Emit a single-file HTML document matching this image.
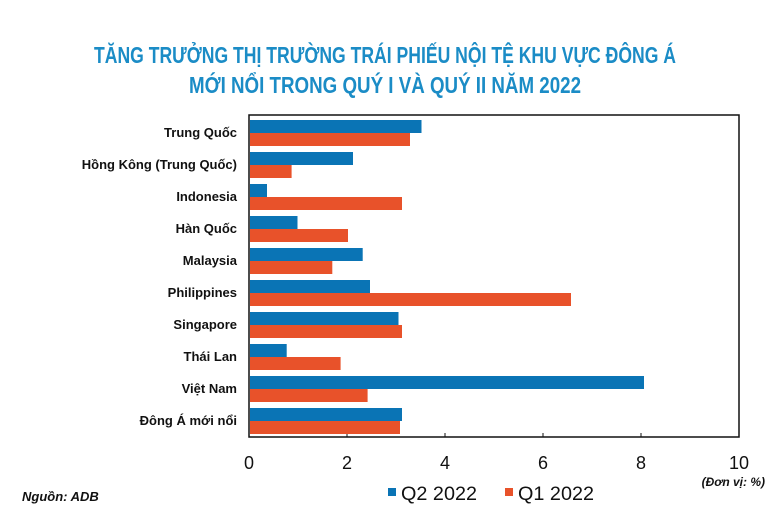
<!DOCTYPE html>
<html><head><meta charset="utf-8"><style>
body{margin:0;background:#fff;width:770px;height:521px;overflow:hidden}
</style></head><body>
<svg width="770" height="521" xmlns="http://www.w3.org/2000/svg" font-family="Liberation Sans, sans-serif">
<g fill="#1b8cc6" font-weight="bold" font-size="23" text-anchor="middle">
<text x="385" y="63" textLength="582" lengthAdjust="spacingAndGlyphs">TĂNG TRƯỞNG THỊ TRƯỜNG TRÁI PHIẾU NỘI TỆ KHU VỰC ĐÔNG Á</text>
<text x="385" y="93" textLength="392" lengthAdjust="spacingAndGlyphs">MỚI NỔI TRONG QUÝ I VÀ QUÝ II NĂM 2022</text>
</g>
<rect x="249" y="115" width="490" height="322" fill="none" stroke="#111" stroke-width="1.5"/>
<g font-size="13" font-weight="bold" text-anchor="end" fill="#111">
<text x="237" y="137">Trung Quốc</text>
<text x="237" y="169">Hồng Kông (Trung Quốc)</text>
<text x="237" y="201">Indonesia</text>
<text x="237" y="233">Hàn Quốc</text>
<text x="237" y="265">Malaysia</text>
<text x="237" y="297">Philippines</text>
<text x="237" y="329">Singapore</text>
<text x="237" y="361">Thái Lan</text>
<text x="237" y="393">Việt Nam</text>
<text x="237" y="425">Đông Á mới nổi</text>
</g>
<g font-size="18" text-anchor="middle" fill="#111">
<text x="249" y="469">0</text><text x="347" y="469">2</text><text x="445" y="469">4</text>
<text x="543" y="469">6</text><text x="641" y="469">8</text><text x="739" y="469">10</text>
</g>
<g stroke="#111" stroke-width="1"><line x1="347" y1="433" x2="347" y2="437"/><line x1="445" y1="433" x2="445" y2="437"/><line x1="543" y1="433" x2="543" y2="437"/><line x1="641" y1="433" x2="641" y2="437"/></g>
<text x="765" y="486" font-size="12" font-weight="bold" font-style="italic" text-anchor="end" fill="#111">(Đơn vị: %)</text>
<text x="22" y="501" font-size="13" font-weight="bold" font-style="italic" fill="#111">Nguồn: ADB</text>
<rect x="388" y="488" width="8" height="8" fill="#0a74b5"/>
<text x="401" y="500" font-size="19" fill="#111" textLength="76" lengthAdjust="spacingAndGlyphs">Q2 2022</text>
<rect x="505" y="488" width="8" height="8" fill="#e8522a"/>
<text x="518" y="500" font-size="19" fill="#111" textLength="76" lengthAdjust="spacingAndGlyphs">Q1 2022</text>
<g>
<rect x="250" y="120" width="171.5" height="13" fill="#0a74b5"/><rect x="250" y="133" width="160" height="13" fill="#e8522a"/>
<rect x="250" y="152" width="103" height="13" fill="#0a74b5"/><rect x="250" y="165" width="41.6" height="13" fill="#e8522a"/>
<rect x="250" y="184" width="17" height="13" fill="#0a74b5"/><rect x="250" y="197" width="152" height="13" fill="#e8522a"/>
<rect x="250" y="216" width="47.5" height="13" fill="#0a74b5"/><rect x="250" y="229" width="98" height="13" fill="#e8522a"/>
<rect x="250" y="248" width="112.7" height="13" fill="#0a74b5"/><rect x="250" y="261" width="82.3" height="13" fill="#e8522a"/>
<rect x="250" y="280" width="120" height="13" fill="#0a74b5"/><rect x="250" y="293" width="321" height="13" fill="#e8522a"/>
<rect x="250" y="312" width="148.5" height="13" fill="#0a74b5"/><rect x="250" y="325" width="152" height="13" fill="#e8522a"/>
<rect x="250" y="344" width="36.7" height="13" fill="#0a74b5"/><rect x="250" y="357" width="90.6" height="13" fill="#e8522a"/>
<rect x="250" y="376" width="394" height="13" fill="#0a74b5"/><rect x="250" y="389" width="117.6" height="13" fill="#e8522a"/>
<rect x="250" y="408" width="152" height="13" fill="#0a74b5"/><rect x="250" y="421" width="150" height="13" fill="#e8522a"/>
</g>
</svg>
</body></html>
